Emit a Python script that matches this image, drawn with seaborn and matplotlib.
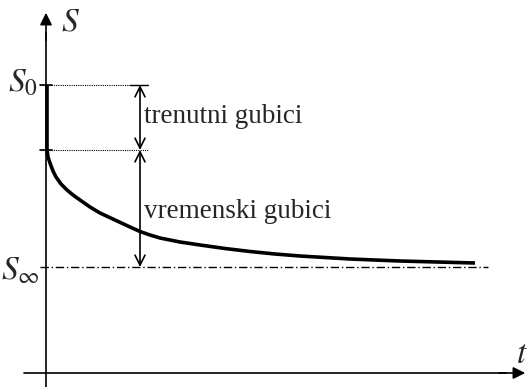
import numpy as np
import pandas as pd
import matplotlib
matplotlib.use('Agg')
import matplotlib.pyplot as plt
import seaborn as sns

# curve (t, S in pixel-like units from origin)
t_vals = [1, 1, 2, 4, 7, 10, 15, 21, 27, 34, 44, 54, 69, 84, 94, 104, 114, 134, 154,
          179, 204, 229, 254, 304, 354, 429]
s_vals = [288, 223, 216, 210, 202, 196, 189, 183, 178, 173, 166, 160, 153, 146, 141.5,
          138, 135, 131, 128, 124.5, 121.5, 119, 117, 114, 112, 110]
S0 = 288
S_mid = 223
S_inf = 106
labels = ['trenutni gubici', 'vremenski gubici']

df = pd.DataFrame({'t': t_vals, 'S': s_vals})

sns.set_style('white')
plt.rcParams['font.family'] = ['Liberation Serif', 'DejaVu Serif']
plt.rcParams['mathtext.fontset'] = 'stix'

fig = plt.figure(figsize=(5.29, 3.87), dpi=100)
ax = fig.add_axes([0, 0, 1, 1])
ax.set_xlim(-46, 483)
ax.set_ylim(-14, 373)
ax.axis('off')

sns.lineplot(data=df, x='t', y='S', ax=ax, color='black', linewidth=2.6, sort=False,
             estimator=None, solid_joinstyle='round', solid_capstyle='butt')

# axes with arrows
ax.plot([0, 0], [-14, 340], color='black', lw=1.2)
ax.annotate('', xy=(0, 363), xytext=(0, 330),
            arrowprops=dict(arrowstyle='-|>', color='black', lw=1.2, mutation_scale=18))
ax.plot([-22, 460], [0, 0], color='black', lw=1.2)
ax.annotate('', xy=(482, 0), xytext=(450, 0),
            arrowprops=dict(arrowstyle='-|>', color='black', lw=1.2, mutation_scale=18))

# reference lines
ax.plot([-6, 102], [S0, S0], color='black', lw=0.8, ls=(0, (1, 1)))
ax.plot([-6, 6], [S0, S0], color='black', lw=1.2)
ax.plot([-6, 102], [S_mid, S_mid], color='black', lw=0.8, ls=(0, (1, 1)))
ax.plot([-6, 6], [S_mid, S_mid], color='black', lw=1.2)
ax.plot([-6, 442], [S_inf, S_inf], color='black', lw=1.0, ls=(0, (6, 2, 1, 2)))
ax.plot([84, 102], [S0, S0], color='black', lw=1.0)

# dimension arrows
ax.annotate('', xy=(94, S0), xytext=(94, S_mid),
            arrowprops=dict(arrowstyle='<->', color='black', lw=1.2, mutation_scale=18, shrinkA=0, shrinkB=0))
ax.annotate('', xy=(94, S_mid), xytext=(94, S_inf),
            arrowprops=dict(arrowstyle='<->', color='black', lw=1.2, mutation_scale=18, shrinkA=0, shrinkB=0))

ax.text(98, (S0 + S_mid) / 2 + 1, labels[0], fontsize=19.5, va='center', ha='left')
ax.text(98, 161, labels[1], fontsize=19.5, va='center', ha='left')

ax.text(15, 351, '$S$', fontsize=24, va='center', ha='left')
ax.text(-8, S0 + 2, '$S_0$', fontsize=24, va='center', ha='right')
ax.text(-6, S_inf - 4, r'$S_\infty$', fontsize=24, va='center', ha='right')
ax.text(470, 18, '$t$', fontsize=24, va='center', ha='left')

fig.savefig('out.png', dpi=100)
